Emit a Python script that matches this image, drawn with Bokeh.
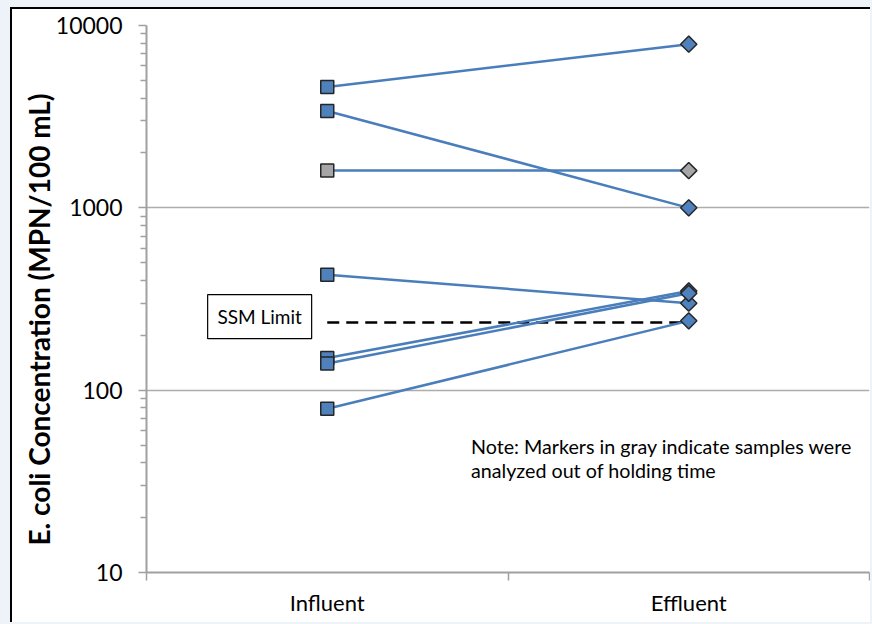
from bokeh.plotting import figure
from bokeh.models import Range1d, FixedTicker, NumeralTickFormatter, Label, Title
from bokeh.embed import file_html
from bokeh.resources import INLINE
from bokeh.core.properties import value
import numpy as np

# ---- data ----
categories = ["Influent", "Effluent"]
influent = [4600, 3400, 1600, 430, 150, 140, 79]
effluent = [7900, 1000, 1600, 300, 350, 340, 240]
out_of_holding = [False, False, True, False, False, False, False]
ssm_limit = 235
y_ticks = [10, 100, 1000, 10000]
y_title = "E. coli Concentration (MPN/100 mL)"
note_lines = ["Note: Markers in gray indicate samples were",
              "analyzed out of holding time"]

FONT = "Lato"
BLUE = "#4F81BD"
LINE = "#4A7EBB"
GRAY = "#A6A6A6"
EDGE = "#262626"
AXC = "#A0A0A0"

xc = [i + 0.5 for i in range(len(categories))]
fill = [GRAY if g else BLUE for g in out_of_holding]

p = figure(width=860, height=615, x_range=Range1d(0, len(categories)),
           y_range=Range1d(y_ticks[0], y_ticks[-1]), y_axis_type="log",
           output_backend="svg", toolbar_location=None,
           min_border_left=134, min_border_right=3, min_border_top=16,
           min_border_bottom=52)
p.styles = {"margin-left": "10px", "margin-top": "7px",
            "border-left": "2px solid black", "border-top": "2px solid black",
            "box-shadow": "0 0 0 14px #EEF2F9"}
p.outline_line_color = None
p.background_fill_color = "white"
p.border_fill_color = "white"

# grid
p.xgrid.grid_line_color = None
p.ygrid.grid_line_color = "#ADADAD"
p.ygrid.grid_line_width = 1.5

# y axis
ya = p.yaxis[0]
ya.ticker = FixedTicker(ticks=y_ticks,
                        minor_ticks=[m * 10 ** k for k in range(1, 4) for m in range(2, 10)])
ya.formatter = NumeralTickFormatter(format="0")
ya.axis_line_color = AXC
ya.axis_line_width = 2
ya.major_tick_line_color = AXC
ya.major_tick_line_width = 1.5
ya.major_tick_out = 8
ya.major_tick_in = 0
ya.minor_tick_line_color = AXC
ya.minor_tick_line_width = 1.5
ya.minor_tick_out = 6
ya.minor_tick_in = 0
ya.major_label_text_font = FONT
ya.major_label_text_font_size = "23px"
ya.major_label_text_color = "black"
ya.major_label_standoff = 16

# y title as a left-side title, starting a little above the frame bottom
try:
    y_title_model = Title(text=y_title, align="left", offset=27, standoff=-6)
except Exception:
    y_title_model = Title(text=y_title, align="left", offset=27, standoff=0)
y_title_model.text_font = FONT
y_title_model.text_font_style = "bold"
y_title_model.text_font_size = "28px"
y_title_model.text_color = "black"
p.add_layout(y_title_model, "left")

# x axis
xa = p.xaxis[0]
xa.ticker = FixedTicker(ticks=xc, minor_ticks=list(range(len(categories) + 1)))
xa.major_label_overrides = {x: c for x, c in zip(xc, categories)}
xa.axis_line_color = AXC
xa.axis_line_width = 2
xa.major_tick_out = 0
xa.major_tick_in = 0
xa.minor_tick_line_color = AXC
xa.minor_tick_line_width = 1.5
xa.minor_tick_out = 8
xa.minor_tick_in = 0
xa.major_label_text_font = FONT
xa.major_label_text_font_size = "22px"
xa.major_label_text_color = "black"
xa.major_label_standoff = 8

# SSM limit dashed line
p.line(xc, [ssm_limit] * len(xc), line_color="black", line_width=2.5, line_dash="12 7")

# connecting lines
for a, b in zip(influent, effluent):
    p.line(xc, [a, b], line_color=LINE, line_width=2.5)

# markers
n = len(influent)
p.scatter([xc[0]] * n, influent, marker="square", size=13, fill_color=fill,
          line_color=EDGE, line_width=1.5)
p.scatter([xc[1]] * n, effluent, marker="square", angle=np.pi / 4, size=11.5,
          fill_color=fill, line_color=EDGE, line_width=1.5)

# SSM Limit box
box_x, box_y = 0.313, 253
p.rect([box_x], [box_y], width=104, height=44, width_units="screen",
       height_units="screen", fill_color="white", line_color="black", line_width=1.2)
p.text([box_x], [box_y], text=["SSM Limit"], text_align="center", text_baseline="middle",
       text_font=value(FONT), text_font_size="19px", text_color="black")

# note
for t, yy in zip(note_lines, [49.1, 36.3]):
    p.add_layout(Label(x=0.8975, y=yy, text=t, text_font=FONT, text_font_size="19.7px",
                       text_color="black", text_baseline="alphabetic"))

open("out.html", "w").write(file_html(p, INLINE))
